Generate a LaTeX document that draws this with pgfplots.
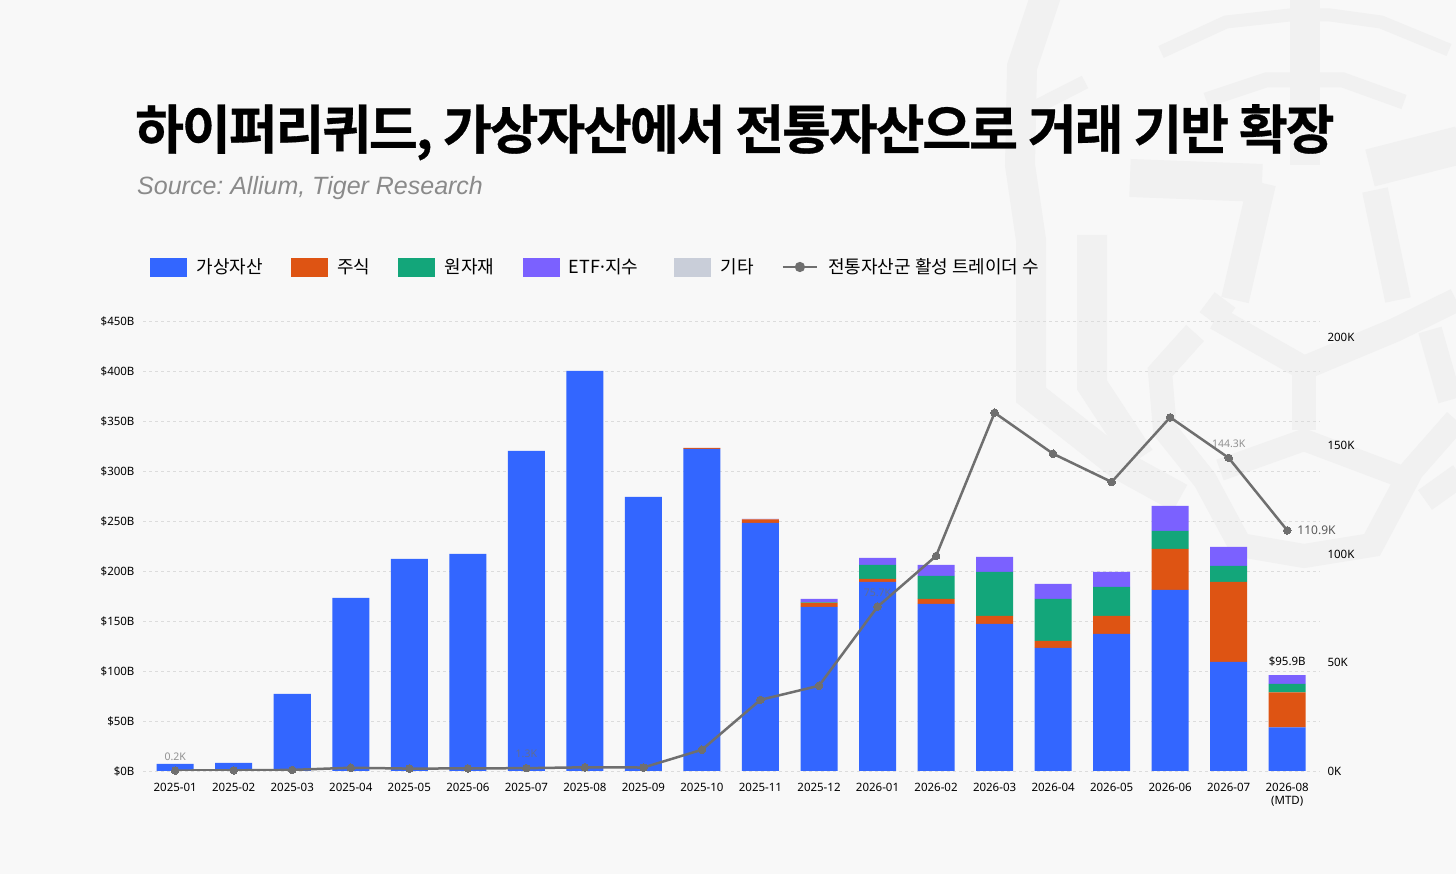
\documentclass[border=0pt]{standalone}
\usepackage{pgfplots}
\pgfplotsset{compat=1.18}
\usepackage{fontspec}
\setmainfont{Noto Sans}
\newfontfamily\kr{Noto Sans CJK KR}[BoldFont={Noto Sans CJK KR Bold}]
\newfontfamily\subfont{Liberation Sans}
\definecolor{bgc}{HTML}{F8F8F8}
\definecolor{wm}{HTML}{F1F1F1}
\definecolor{cblue}{HTML}{3366FF}
\definecolor{corange}{HTML}{DE5413}
\definecolor{cgreen}{HTML}{13A67A}
\definecolor{cpurple}{HTML}{7B61FF}
\definecolor{cother}{HTML}{C9CED9}
\definecolor{lgray}{HTML}{6F6F6F}
\definecolor{gridc}{HTML}{DCDCDC}
\definecolor{subc}{HTML}{8A8A8A}
\newcommand{\tickfont}{\fontsize{11.5}{13}\selectfont}
\frenchspacing
\begin{document}
\begin{tikzpicture}[x=1pt,y=1pt]
\fill[bgc] (0,0) rectangle (1456,874);
\useasboundingbox (0,0) rectangle (1456,874);
% watermark (decorative), coordinates in pixels from the top-left
\begin{scope}[cm={1,0,0,-1,(0,874)}, wm, line join=miter, line cap=butt]
\clip (0,0) rectangle (1456,874);
\draw[line width=30pt] (1046,-5)--(1022,67)--(1020,165)--(1031,240)--(1031,395)--(1120,465)--(1180,498);
\draw[line width=30pt] (1092,235)--(1092,385)--(1140,458);
\draw[line width=14pt] (1085,82)--(1030,110);
\draw[line width=24pt] (1195,333)--(1160,372)--(1165,430)--(1205,480)--(1240,545)--(1304,556)--(1372,545)--(1412,470)--(1456,420);
\draw[line width=24pt] (1216,318)--(1304,368)--(1395,330)--(1456,300);
\draw[line width=24pt] (1304,368)--(1304,430);
\draw[line width=22pt] (1220,470)--(1304,440)--(1405,478);
\draw[line width=13pt] (1161,52)--(1226,22)--(1290,15)--(1330,15)--(1381,22)--(1449,50);
\draw[line width=30pt] (1305,-5)--(1305,165);
\draw[line width=15pt] (1206,100)--(1266,80)--(1343,80)--(1404,102);
\draw[line width=38pt] (1130,178)--(1262,183);
\draw[line width=28pt] (1262,183)--(1235,300);
\draw[line width=38pt] (1370,168)--(1460,145);
\draw[line width=26pt] (1375,190)--(1398,300);
\draw[line width=26pt] (1225,300)--(1210,320);
\draw[line width=24pt] (1430,330)--(1450,400);
\draw[line width=24pt] (1425,500)--(1460,475);
\end{scope}
% title
\node[anchor=base west, inner sep=0] at (135,725)
  {\kr\bfseries\fontsize{53}{60}\selectfont\addfontfeatures{LetterSpace=-3.8,FakeBold=0.6}하이퍼리퀴드, 가상자산에서 전통자산으로 거래 기반 확장};
\node[anchor=base west, inner sep=0, text=subc] at (137,679)
  {\subfont\itshape\fontsize{25}{30}\selectfont Source: Allium, Tiger Research};

% bars
\begin{axis}[
  at={(143pt,103pt)}, anchor=south west, scale only axis,
  width=1177pt, height=450pt,
  xmin=-0.55, xmax=19.56, ymin=0, ymax=450,
  ybar stacked, bar width=37pt,
  axis line style={draw=none}, major tick length=0pt,
  xtick={0,...,19},
  xticklabels={2025-01,2025-02,2025-03,2025-04,2025-05,2025-06,2025-07,2025-08,2025-09,2025-10,2025-11,2025-12,2026-01,2026-02,2026-03,2026-04,2026-05,2026-06,2026-07,{2026-08\\(MTD)}},
  xticklabel style={font=\tickfont, align=center, yshift=-9pt},
  ytick={0,50,...,450},
  yticklabel={\$\pgfmathprintnumber{\tick}B},
  /pgf/number format/assume math mode=true,
  yticklabel style={font=\tickfont, xshift=-5pt},
  ymajorgrids, grid style={gridc, line width=0.8pt, dash pattern=on 3pt off 3pt},
]
\addplot[fill=cblue, draw=none] coordinates {(0,7) (1,8) (2,77) (3,173) (4,212) (5,217) (6,320) (7,400) (8,274) (9,322) (10,248) (11,164) (12,189) (13,167) (14,147) (15,123) (16,137) (17,181) (18,109) (19,43.5)};
\addplot[fill=corange, draw=none] coordinates {(0,0) (1,0) (2,0) (3,0) (4,0) (5,0) (6,0) (7,0) (8,0) (9,1.2) (10,3.5) (11,4) (12,3) (13,5) (14,8) (15,7) (16,18) (17,41) (18,80) (19,35)};
\addplot[fill=cgreen, draw=none] coordinates {(0,0) (1,0) (2,0) (3,0) (4,0) (5,0) (6,0) (7,0) (8,0) (9,0) (10,0) (11,0.5) (12,14) (13,23) (14,44) (15,42) (16,29) (17,18) (18,16) (19,8.5)};
\addplot[fill=cpurple, draw=none] coordinates {(0,0) (1,0) (2,0) (3,0) (4,0) (5,0) (6,0) (7,0) (8,0) (9,0) (10,0.5) (11,3.5) (12,7) (13,11) (14,15) (15,15) (16,15) (17,25) (18,19) (19,8.9)};
\end{axis}

% total label
\begin{axis}[
  at={(143pt,103pt)}, anchor=south west, scale only axis,
  width=1177pt, height=450pt,
  xmin=-0.55, xmax=19.56, ymin=0, ymax=450, hide axis,
]
\addplot[draw=none, mark=none, nodes near coords, point meta=explicit symbolic,
  nodes near coords style={font=\fontsize{11.5}{13}\selectfont, text=black, anchor=south, inner sep=0pt, yshift=9pt}]
  coordinates {(19,95.9) [\textbf{\$95.9B}]};
\end{axis}

% line
\begin{axis}[
  at={(143pt,103pt)}, anchor=south west, scale only axis,
  width=1177pt, height=450pt,
  xmin=-0.55, xmax=19.56, ymin=0, ymax=207.4,
  axis y line*=right, hide x axis,
  axis line style={draw=none}, major tick length=0pt,
  ytick={0,50,...,200},
  yticklabel={\pgfmathprintnumber{\tick}K},
  /pgf/number format/assume math mode=true,
  yticklabel style={font=\tickfont, anchor=west, xshift=4pt},
  legend style={at={(axis description cs:0.006,1.12)}, anchor=west, draw=none, fill=none,
    inner sep=0pt, font=\kr\fontsize{18}{20}\selectfont, legend columns=-1,
    /tikz/every odd column/.append style={column sep=10pt},
    /tikz/every even column/.append style={column sep=28pt},
    nodes={inner sep=0pt}},
]
\addlegendimage{legend image code/.code={\fill[cblue] (0pt,-9pt) rectangle (36pt,9pt);}}
\addlegendentry{가상자산}
\addlegendimage{legend image code/.code={\fill[corange] (0pt,-9pt) rectangle (36pt,9pt);}}
\addlegendentry{주식}
\addlegendimage{legend image code/.code={\fill[cgreen] (0pt,-9pt) rectangle (36pt,9pt);}}
\addlegendentry{원자재}
\addlegendimage{legend image code/.code={\fill[cpurple] (0pt,-9pt) rectangle (36pt,9pt);}}
\addlegendentry{ETF{\fontspec{Noto Sans}·}지수\hspace*{8pt}}
\addlegendimage{legend image code/.code={\fill[cother] (0pt,-9pt) rectangle (36pt,9pt);}}
\addlegendentry{기타}
\addplot[color=lgray, line width=2.5pt, mark=*, mark size=3.8pt,
  mark options={fill=lgray, draw=lgray, line width=0pt},
  legend image code/.code={\draw[lgray, line width=2.5pt] (0pt,0pt) -- (34pt,0pt); \fill[lgray] (17pt,0pt) circle (3.8pt);}]
  coordinates {(0,0.2) (1,0.3) (2,0.5) (3,1.5) (4,1.1) (5,1.2) (6,1.3) (7,1.7) (8,1.6) (9,9.8) (10,32.8) (11,39.3) (12,75.7) (13,99.1) (14,165.1) (15,146.2) (16,133.2) (17,163) (18,144.3) (19,110.9)};
\addlegendentry{전통자산군 활성 트레이더 수}
\addplot[draw=none, mark=none, nodes near coords, point meta=explicit symbolic, forget plot,
  nodes near coords style={font=\fontsize{10.5}{12}\selectfont, text=lgray, opacity=0.75, anchor=south, inner sep=0pt, yshift=10pt}]
  coordinates {(0,0.2) [0.2K] (6,1.3) [1.3K] (12,75.7) [75.7K] (18,144.3) [144.3K]};
\addplot[draw=none, mark=none, nodes near coords, point meta=explicit symbolic, forget plot,
  nodes near coords style={font=\fontsize{12}{14}\selectfont, text=lgray!80!black, anchor=west, inner sep=0pt, xshift=10pt, yshift=0pt}]
  coordinates {(19,110.9) [\textbf{110.9K}]};
\end{axis}
\end{tikzpicture}
\end{document}
